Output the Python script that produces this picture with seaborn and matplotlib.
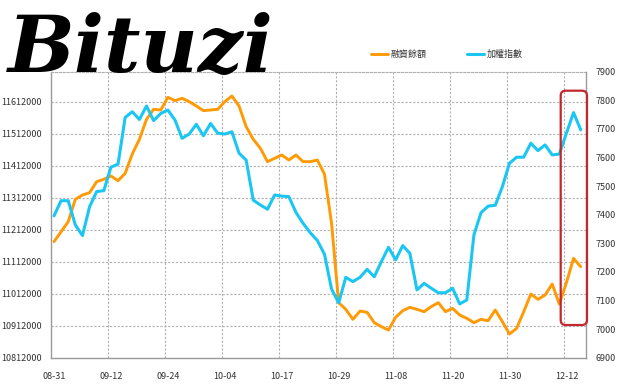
import pandas as pd
import seaborn as sns
import matplotlib.pyplot as plt
from matplotlib.patches import FancyBboxPatch

# x tick labels, one every 8 trading days
tick_dates = ["08-31", "09-12", "09-24", "10-04", "10-17",
              "10-29", "11-08", "11-20", "11-30", "12-12"]

# 融資餘額 (left axis)
margin = [11174600, 11205800, 11237100, 11306900, 11320400, 11327700, 11362100, 11369400, 11379800, 11365200,
          11388100, 11448600, 11494400, 11556900, 11588100, 11586100, 11625600, 11615200, 11622500, 11612100,
          11598600, 11584000, 11586100, 11588100, 11612100, 11629800, 11598600, 11534000, 11494400, 11466300,
          11424600, 11435000, 11445400, 11429800, 11445400, 11424600, 11424600, 11429800, 11386000, 11231900,
          10984000, 10963100, 10931900, 10957900, 10953700, 10921400, 10908900, 10898500, 10938100, 10958900,
          10969400, 10963100, 10955800, 10971500, 10984000, 10955800, 10966200, 10945400, 10935000, 10921400,
          10931900, 10927700, 10961000, 10924600, 10886000, 10903700, 10955800, 11011000, 10994400, 11007900,
          11042300, 10979800, 11046500, 11122500, 11096500]

# 加權指數 (right axis)
taiex = [7396, 7449, 7449, 7364, 7327, 7428, 7481, 7484, 7566, 7577,
         7740, 7760, 7733, 7780, 7729, 7754, 7766, 7731, 7667, 7682,
         7716, 7676, 7719, 7685, 7682, 7690, 7615, 7591, 7451, 7434,
         7419, 7469, 7465, 7463, 7408, 7370, 7337, 7310, 7262, 7140,
         7092, 7181, 7166, 7181, 7209, 7183, 7236, 7286, 7242, 7292,
         7265, 7137, 7160, 7143, 7127, 7127, 7143, 7088, 7102, 7329,
         7407, 7430, 7433, 7498, 7580, 7601, 7601, 7650, 7624, 7644,
         7609, 7612, 7685, 7757, 7697]

left_ticks = list(range(10812000, 11612001, 100000))
right_ticks = list(range(6900, 7901, 100))

orange = "#FF9A05"
blue = "#1CC6F2"
grid_c = "#B0B0B0"
axis_c = "#9A9A9A"
txt_c = "#333333"

sns.set_style("white")
plt.rcParams["font.family"] = ["Noto Sans CJK TC", "DejaVu Sans"]

df = pd.DataFrame({"day": range(len(margin)), "margin": margin, "taiex": taiex})

fig = plt.figure(figsize=(6.2, 3.84), dpi=100)
ax = fig.add_axes([51 / 620, 1 - 357.7 / 384, 535 / 620, 286 / 384])
ax2 = ax.twinx()

sns.lineplot(data=df, x="day", y="margin", ax=ax, color=orange, lw=2.1, label="融資餘額", legend=False)
sns.lineplot(data=df, x="day", y="taiex", ax=ax2, color=blue, lw=2.2, label="加權指數", legend=False)

ax.set_xlim(-0.42, 74.75)
ax.set_ylim(10812000, 11705750)
ax2.set_ylim(6900, 7900)

xt = list(range(0, 8 * len(tick_dates), 8))
ax.set_xticks(xt)
ax.set_xticklabels(tick_dates)
ax.set_yticks(left_ticks)
ax.set_yticklabels([str(v) for v in left_ticks])
ax2.set_yticks(right_ticks)
ax2.set_yticklabels([str(v) for v in right_ticks])
ax.set_xlabel("")
ax.set_ylabel("")
ax2.set_ylabel("")

ax.grid(False)
ax2.grid(False)
for v in left_ticks[1:]:
    ax.axhline(v, color=grid_c, lw=0.8, ls=(0, (2, 1.5)), zorder=0)
for t in xt[1:]:
    ax.axvline(t - 0.35, color=grid_c, lw=0.8, ls=(0, (2, 1.5)), zorder=0)

for s in ["left", "bottom"]:
    ax.spines[s].set_color(axis_c)
    ax.spines[s].set_linewidth(1.0)
ax.spines["right"].set_visible(False)
ax.spines["top"].set_color(grid_c)
ax.spines["top"].set_linewidth(0.8)
ax.spines["top"].set_linestyle((0, (2, 1.5)))
for s in ["left", "bottom", "top"]:
    ax2.spines[s].set_visible(False)
ax2.spines["right"].set_color(axis_c)
ax2.spines["right"].set_linewidth(1.0)

ax.tick_params(axis="y", length=0, pad=6.5, labelsize=6.5, labelcolor=txt_c)
ax.tick_params(axis="x", length=0, pad=10, labelsize=6.5, labelcolor=txt_c)
ax2.tick_params(axis="y", length=0, pad=7, labelsize=6.5, labelcolor=txt_c)

h1, l1 = ax.get_legend_handles_labels()
h2, l2 = ax2.get_legend_handles_labels()
fig.legend(h1 + h2, l1 + l2, loc="center", bbox_to_anchor=(447 / 620, 1 - 54.5 / 384),
           ncol=2, frameon=False, fontsize=6.5, handlelength=1.9, handletextpad=0.3,
           columnspacing=4.5, labelcolor=txt_c)

# red highlight box round the last days
box = FancyBboxPatch((5.607, 0.59), 0.263, 2.343, boxstyle="round,pad=0,rounding_size=0.05",
                     transform=fig.dpi_scale_trans, fill=False, ec="#C1272D", lw=1.6)
fig.add_artist(box)

# logo
fig.text(0.012, 1 - 72 / 384, "Bituzi", fontsize=57, family="DejaVu Serif",
         style="italic", weight="bold", color="black", va="baseline")

fig.savefig("out.png", dpi=100)
